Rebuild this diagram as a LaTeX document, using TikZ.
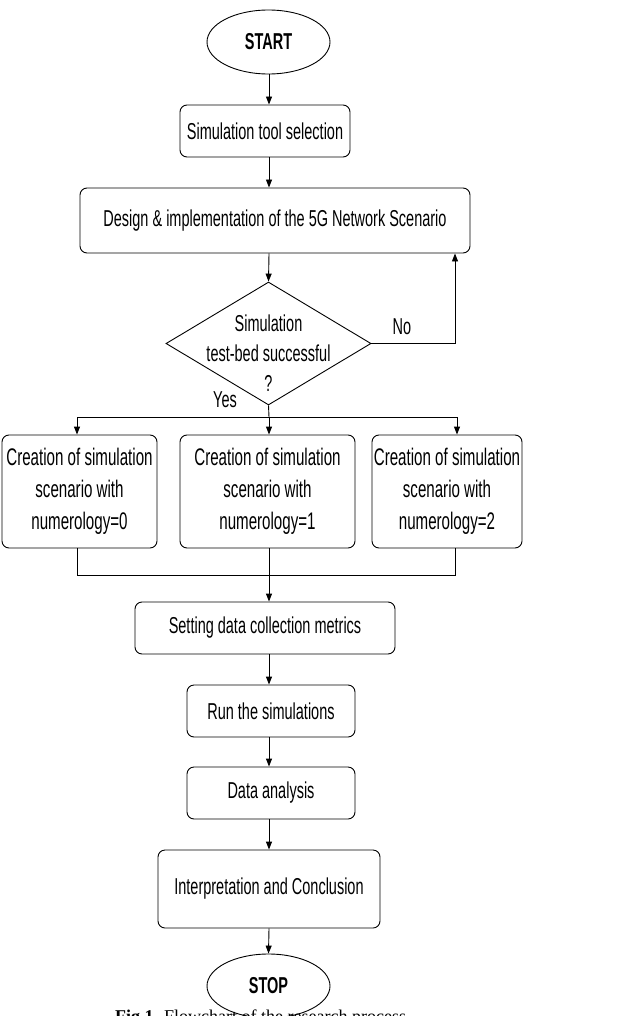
\documentclass[tikz,border=0pt]{standalone}
\usepackage{fontspec}
\setmainfont{Liberation Sans}[FakeStretch=0.63]
\newfontfamily\capfont{Liberation Serif}
\usetikzlibrary{arrows.meta,shapes.geometric}
\begin{document}
\begin{tikzpicture}[x=1pt,y=-1pt,
  every node/.style={font=\fontsize{23}{30}\selectfont},
  stepbox/.style={draw,line width=0.9pt,rounded corners=7pt,inner sep=0pt,align=center},
  rowbox/.style={stepbox,minimum height=113pt,font=\fontsize{24}{32}\selectfont},
  term/.style={draw,ellipse,line width=0.9pt,minimum width=123pt,minimum height=64pt,inner sep=0pt,font=\fontsize{23}{24}\selectfont\bfseries},
  decision/.style={draw,diamond,line width=0.9pt,minimum width=205pt,minimum height=123pt,inner sep=0pt},
  arr/.style={line width=0.9pt,-{Triangle[length=8pt,width=6pt]}},
  ln/.style={line width=0.9pt}]
\useasboundingbox (0,0) rectangle (620,1016);
\coordinate (axis) at (269,0);
\node[term] (start) at (268.5,42) {START};
\node[stepbox,minimum width=170pt,minimum height=52pt] (b1) at (265,131) {Simulation tool selection};
\node[stepbox,minimum width=390pt,minimum height=65pt] (b2) at (275,220.5) {Design \& implementation of the 5G Network Scenario};
\node[decision] (dec) at (268.5,343.5) {};
\node[align=center] (dect) at (268.5,353) {Simulation\\test-bed successful\\?};
\node[rowbox,minimum width=155pt] (c0) at (79.5,491.5) {Creation of simulation\\scenario with\\numerology=0};
\node[rowbox,minimum width=175pt] (c1) at (267.5,491.5) {Creation of simulation\\scenario with\\numerology=1};
\node[rowbox,minimum width=150pt] (c2) at (447,491.5) {Creation of simulation\\scenario with\\numerology=2};
\node[stepbox,minimum width=260pt,minimum height=52pt] (b4) at (265,628) {Setting data collection metrics};
\node[stepbox,minimum width=168pt,minimum height=52pt] (b5) at (271,711) {Run the simulations};
\node[stepbox,minimum width=168pt,minimum height=52pt] (b6) at (271,793) {Data analysis};
\node[stepbox,minimum width=222pt,minimum height=78pt] (b7) at (269,889) {Interpretation and Conclusion};
\node[term] (stop) at (268.5,986) {STOP};
\node[anchor=base west,inner sep=0pt,font=\capfont\fontsize{18}{20}\selectfont] (cap) at (115,1022) {\textbf{Fig.1.} Flowchart of the research process};
% connectors
\draw[arr] (start.south -| axis) -- (b1.north -| axis);
\draw[arr] (b1.south -| axis) -- (b2.north -| axis);
\draw[arr] (b2.south -| axis) -- (dec.north);
\coordinate (nocorner) at (455,343.5);
\draw[arr] (dec.east) -- (nocorner) -- (nocorner |- b2.south);
\node (no) at (402,327) {No};
\node (yes) at (225,400) {Yes};
\coordinate (split) at (269,417);
\coordinate (s0) at (77,417);
\coordinate (s2) at (457,417);
\draw[ln] (dec.south) -- (split);
\draw[ln] (s0) -- (s2);
\draw[arr] (s0) -- (s0 |- c0.north);
\draw[arr] (split) -- (split |- c1.north);
\draw[arr] (s2) -- (s2 |- c2.north);
\coordinate (m0) at (77,575);
\coordinate (m2) at (455,575);
\draw[ln] (m0 |- c0.south) -- (m0) -- (m2) -- (m2 |- c2.south);
\draw[arr] (c1.south -| axis) -- (b4.north -| axis);
\draw[arr] (b4.south -| axis) -- (b5.north -| axis);
\draw[arr] (b5.south -| axis) -- (b6.north -| axis);
\draw[arr] (b6.south -| axis) -- (b7.north -| axis);
\draw[arr] (b7.south -| axis) -- (stop.north);
\end{tikzpicture}
\end{document}
